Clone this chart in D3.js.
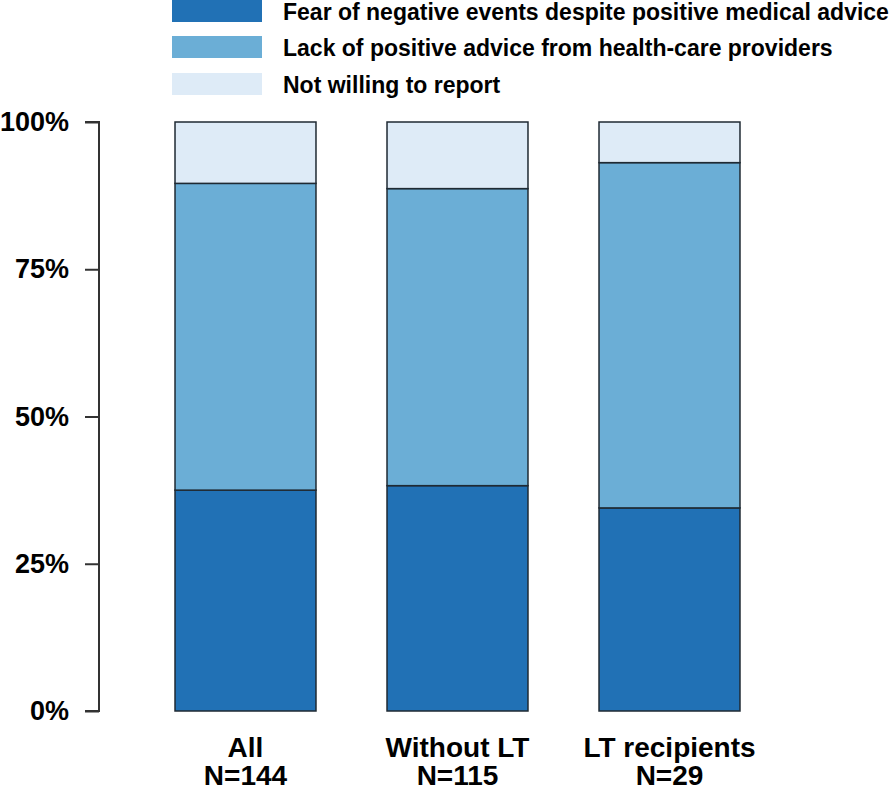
<!DOCTYPE html>
<html><head><meta charset="utf-8">
<script src="https://cdn.jsdelivr.net/npm/d3@7"></script>
<style>body{margin:0;background:#fff}text{font-family:"Liberation Sans",Arial,sans-serif;font-weight:bold;fill:#000}</style>
</head><body><svg id="c" width="896" height="792"></svg>
<script>
const categories = ["All", "Without LT", "LT recipients"];
const sampleSizes = ["N=144", "N=115", "N=29"];
const seriesNames = ["Fear of negative events despite positive medical advice", "Lack of positive advice from health-care providers", "Not willing to report"];
const fearPct = [37.50, 38.26, 34.48];
const lackPct = [52.08, 50.43, 58.62];
const notWillingPct = [10.42, 11.31, 6.90];
const colors = ["#2171b5", "#6baed6", "#deebf7"];
const yTicks = [0, 25, 50, 75, 100];

const svg = d3.select("#c");
const rows = categories.map((c, i) => ({cat: c, s0: fearPct[i], s1: lackPct[i], s2: notWillingPct[i]}));
const stack = d3.stack().keys(["s0", "s1", "s2"])(rows);

const x = d3.scaleBand().domain(categories).range([139.5, 775.5]).paddingInner(0.335).paddingOuter(0.1675);
const y = d3.scaleLinear().domain([0, 100]).range([711, 122]);

const yAxis = svg.append("g").attr("transform", "translate(99,0)")
  .call(d3.axisLeft(y).tickValues(yTicks).tickSize(14).tickPadding(16).tickFormat(d => d + "%"));
yAxis.select(".domain").attr("stroke", "#333").attr("stroke-width", 2).attr("d", "M-14," + y(100) + "H0V" + y(0) + "H-14");
yAxis.selectAll(".tick line").attr("stroke", "#333").attr("stroke-width", 2);
yAxis.selectAll(".tick text").style("font-size", "27px").style("font-family", "'Liberation Sans',Arial,sans-serif").style("font-weight", "bold").attr("fill", "#000");

svg.append("g").selectAll("g").data(stack).join("g")
  .attr("fill", (d, i) => colors[i])
  .selectAll("rect").data(d => d).join("rect")
  .attr("x", d => x(d.data.cat))
  .attr("width", x.bandwidth())
  .attr("y", d => y(d[1]))
  .attr("height", d => y(d[0]) - y(d[1]))
  .attr("stroke", "#1f2a33").attr("stroke-width", 1.5);

const lab = svg.append("g");
categories.forEach((c, i) => {
  const cx = x(c) + x.bandwidth() / 2;
  lab.append("text").attr("x", cx).attr("y", 757).attr("text-anchor", "middle").style("font-size", "28px").text(c);
  lab.append("text").attr("x", cx).attr("y", 785).attr("text-anchor", "middle").style("font-size", "28px").text(sampleSizes[i]);
});

const legY = [0, 36, 73];
const leg = svg.append("g");
seriesNames.forEach((n, i) => {
  leg.append("rect").attr("x", 172).attr("y", legY[i]).attr("width", 90).attr("height", 22).attr("fill", colors[i]);
  leg.append("text").attr("x", 283).attr("y", legY[i] + 20).style("font-size", "23px").text(n);
});
</script></body></html>
